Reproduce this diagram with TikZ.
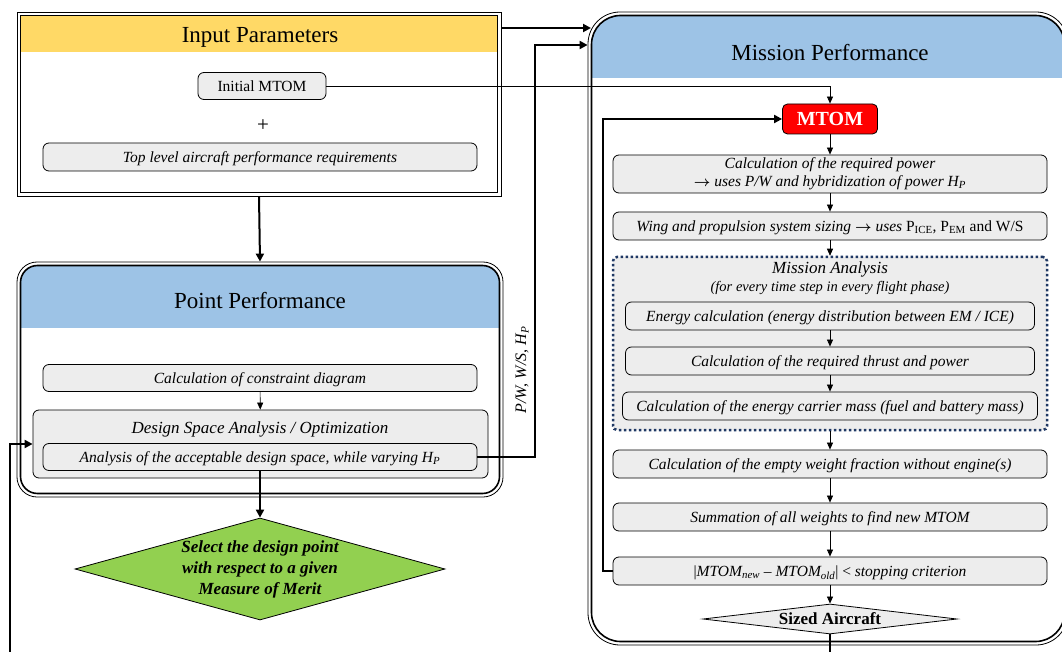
\documentclass[tikz,border=0pt]{standalone}
\usepackage{fontspec}
\setmainfont{Liberation Serif}
\usetikzlibrary{shapes.geometric,arrows.meta}
\definecolor{hdrY}{HTML}{FFD966}
\definecolor{hdrB}{HTML}{9DC3E6}
\definecolor{boxG}{HTML}{EDEDED}
\definecolor{mtomR}{HTML}{FF0000}
\definecolor{dmdG}{HTML}{92D050}
\definecolor{navyD}{HTML}{1F3864}
\newcommand{\fs}[1]{\fontsize{#1}{#1}\selectfont}
\newcommand{\barr}{{\boldmath$\rightarrow$}}
\begin{document}
\begin{tikzpicture}[x=1pt,y=-1pt,
  stepbox/.style={draw, line width=0.8pt, rounded corners=6pt, fill=boxG, minimum height=28pt, inner sep=1pt, font=\fontsize{15.5}{17}\selectfont\itshape, align=center, text height=13pt, text depth=1.5pt},
  thinarrow/.style={-{Triangle[length=7pt,width=6pt]}, line width=0.7pt},
  thickarrow/.style={-{Triangle[length=8pt,width=8pt]}, line width=2pt},
  thickline/.style={line width=2pt},
  ttl/.style={font=\fontsize{23}{26}\selectfont},
  outerline/.style={draw, line width=0.8pt},
  innerline/.style={draw, line width=1.6pt}
]
\useasboundingbox (0,0) rectangle (1062,652);
\clip (0,0) rectangle (1062,652);
\fill[white] (0,0) rectangle (1062,652);

% ---------- containers ----------
% Input
\node[outerline, minimum width=484pt, minimum height=184pt, inner sep=0] (inp) at (259,104) {};
\fill[hdrY] (20.5,15.5) rectangle (497.5,52);
\draw[innerline] (20.5,15.5) rectangle (497.5,192.5);
\node[ttl] (inpT) at (260,37) {Input Parameters};

% Point performance
\node[outerline, rounded corners=20pt, minimum width=486pt, minimum height=235pt, inner sep=0] (pp) at (260,379.5) {};
\begin{scope}
  \clip[rounded corners=17pt] (20.5,265.5) rectangle (499.5,493.5);
  \fill[hdrB] (20,265) rectangle (500,328);
\end{scope}
\draw[innerline, rounded corners=17pt] (20.5,265.5) rectangle (499.5,493.5);
\node[ttl] (ppT) at (260,301) {Point Performance};

% Mission performance
\node[outerline, rounded corners=32pt, minimum width=480pt, minimum height=633pt, inner sep=0] (mp) at (828,328.5) {};
\begin{scope}
  \clip[rounded corners=29pt] (591.5,15.5) rectangle (1064.5,641.5);
  \fill[hdrB] (591,15) rectangle (1065,78);
\end{scope}
\draw[innerline, rounded corners=29pt] (591.5,15.5) rectangle (1064.5,641.5);
\node[ttl] (mpT) at (830,53) {Mission Performance};

% ---------- input nodes ----------
\node[stepbox, minimum width=128pt, minimum height=27pt, font=\fs{15.5}] (init) at (262,86) {Initial MTOM};
\node[font=\fs{21}] (plus) at (263,126) {+};
\node[stepbox, minimum width=434pt] (req) at (260,157) {Top level aircraft performance requirements};

% ---------- point performance nodes ----------
\node[stepbox, minimum width=434pt, minimum height=27pt] (cons) at (260,378) {Calculation of constraint diagram};
\node[stepbox, minimum width=455pt, minimum height=68pt] (dsa) at (260.5,444) {};
\node[font=\fs{17}\itshape] (dsaT) at (260,429) {Design Space Analysis / Optimization};
\node[stepbox, minimum width=434pt, minimum height=27pt] (ana) at (260,457) {Analysis of the acceptable design space, while varying H\textsubscript{P}};

\node[diamond, aspect=3.63, draw, line width=0.8pt, fill=dmdG, minimum width=370pt, minimum height=102pt, inner sep=0, align=center, font=\fontsize{17}{21}\selectfont\bfseries\itshape] (sel) at (260,569) {Select the design point\\with respect to a given\\Measure of Merit};

% ---------- mission nodes ----------
\node[draw, line width=0.8pt, fill=mtomR, rounded corners=5pt, minimum width=95pt, minimum height=30pt, text=white, font=\fs{20}\bfseries] (mtom) at (830,119) {MTOM};
\node[stepbox, minimum width=434pt, minimum height=38pt, text height=, text depth=, font=\fontsize{15.5}{18}\selectfont\itshape] (pow) at (830,174) {Calculation of the required power\\\barr{} uses P/W and hybridization of power H\textsubscript{P}};
\node[stepbox, minimum width=434pt] (wing) at (830,226) {Wing and propulsion system sizing \barr{} uses \upshape P\textsubscript{ICE}, P\textsubscript{EM} and W/S};
\node[draw=navyD, line width=2.5pt, dash pattern=on 2.5pt off 2.5pt, fill=boxG, rounded corners=4pt, minimum width=434pt, minimum height=173pt] (ma) at (830,343.5) {};
\node[font=\fs{17}\itshape] (maT) at (830,269) {Mission Analysis};
\node[font=\fs{14.5}\itshape] (maS) at (830,288) {(for every time step in every flight phase)};
\node[stepbox, minimum width=409pt] (energy) at (830,316) {Energy calculation (energy distribution between EM / ICE)};
\node[stepbox, minimum width=409pt] (thrust) at (830,361) {Calculation of the required thrust and power};
\node[stepbox, minimum width=415pt] (carrier) at (830,406) {Calculation of the energy carrier mass (fuel and battery mass)};
\node[stepbox, minimum width=434pt] (empty) at (830,464) {Calculation of the empty weight fraction without engine(s)};
\node[stepbox, minimum width=434pt] (sum) at (830,517) {Summation of all weights to find new MTOM};
\node[stepbox, minimum width=434pt] (stop) at (830,571) {{\upshape|}MTOM\textsubscript{new} – MTOM\textsubscript{old}{\upshape|} {\upshape<} stopping criterion};
\node[diamond, aspect=8.47, draw, line width=0.8pt, fill=boxG, minimum width=254pt, minimum height=30pt, inner sep=0, font=\fs{17}\bfseries] (sized) at (830,619) {Sized Aircraft};

% ---------- connectors ----------
\draw[thickarrow] (inp.south) -- (pp.north);
\draw[thinarrow] (cons) -- (dsa);
\draw[thickarrow] (ana.south) -- (sel.north);
\coordinate (lf) at (10,652);
\draw[thickarrow] (lf) |- (dsa.west);

\draw[thickarrow] (inp.east |- 0,28) -- (591,28);
\coordinate (bend) at (535,45);
\draw[thickarrow] (ana.east) -| (bend) -- (mp.west |- bend);
\node[rotate=90, font=\fs{16}\itshape] (lbl) at (522,370) {P/W, W/S, H\textsubscript{P}};

\draw[thinarrow] (init.east) -| (mtom.north);
\draw[thinarrow] (mtom) -- (pow);
\draw[thinarrow] (pow) -- (wing);
\draw[thinarrow] (wing) -- (ma.north);
\draw[thinarrow] (energy) -- (thrust);
\draw[thinarrow] (thrust) -- (carrier);
\draw[thinarrow] (ma.south) -- (empty);
\draw[thinarrow] (empty) -- (sum);
\draw[thinarrow] (sum) -- (stop);
\draw[thinarrow] (stop) -- (sized);
\coordinate (lp) at (603,119);
\draw[thickarrow] (stop.west) -| (lp) -- (mtom.west);
\coordinate (bot) at (830,652);
\draw[thickline] (sized.south) -- (bot);
\end{tikzpicture}
\end{document}
